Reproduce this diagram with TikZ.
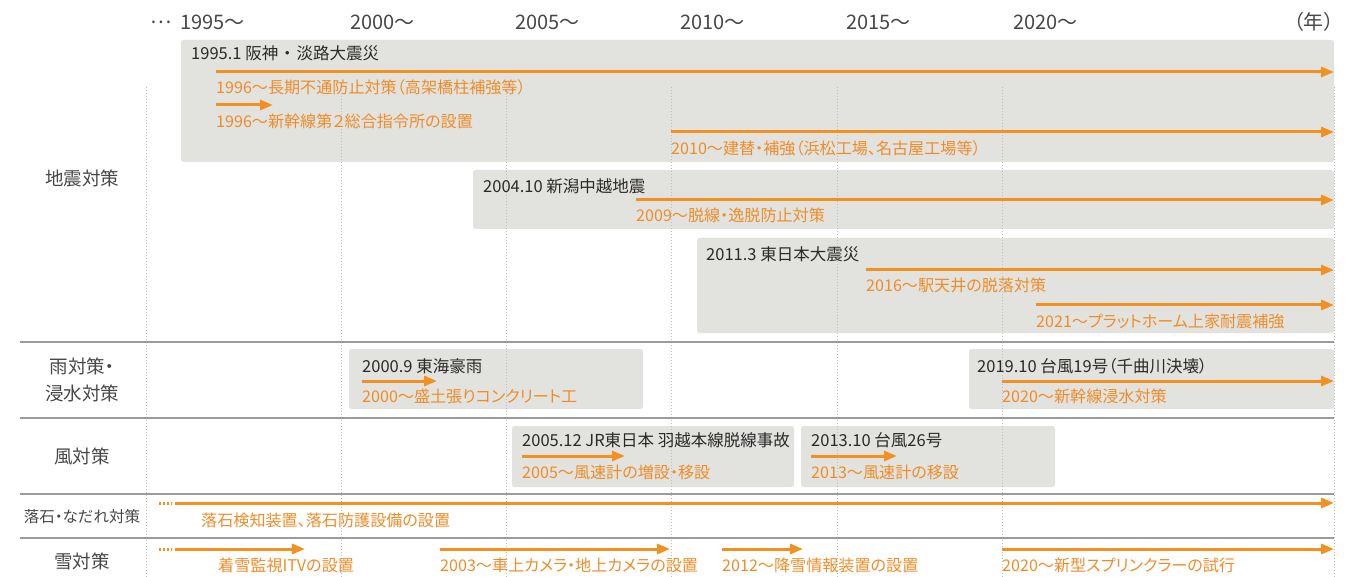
\documentclass[tikz,border=0pt]{standalone}
\usepackage{fontspec}
\setmainfont{Noto Sans CJK JP}[RawFeature=+palt]
\usetikzlibrary{arrows.meta}
\definecolor{org}{HTML}{F39020}
\definecolor{otext}{HTML}{F08C28}
\definecolor{boxg}{HTML}{E2E3DF}
\definecolor{sepg}{HTML}{9B9B9B}
\definecolor{dotg}{HTML}{BDBDBD}
\definecolor{txt}{HTML}{2A2A2A}
\definecolor{lab}{HTML}{474747}
\tikzset{
  yr/.style={anchor=west,inner sep=0pt,text=lab,font=\fontsize{20}{24}\selectfont},
  evt/.style={anchor=west,inner sep=0pt,text=txt,font=\fontsize{16.5}{19}\selectfont},
  msr/.style={anchor=west,inner sep=0pt,text=otext,font=\fontsize{16.1}{19}\selectfont},
  cat/.style={inner sep=0pt,text=lab,align=center,font=\fontsize{18.5}{27}\selectfont},
  gbox/.style={fill=boxg,rounded corners=2.5pt},
  arr/.style={draw=org,line width=3pt,-{Triangle[length=13pt,width=10pt]}},
  dots/.style={draw=org,line width=3pt,dash pattern=on 2pt off 2pt},
  sepline/.style={draw=sepg,line width=2pt},
  grid/.style={draw=dotg,line width=0.8pt,dash pattern=on 1pt off 2pt}
}
\begin{document}
\begin{tikzpicture}[x=1pt,y=-1pt]
\useasboundingbox (0,0) rectangle (1357,577);
% boxes
\fill[gbox] (181,40) rectangle (1334,162);
\fill[gbox] (473,170) rectangle (1334,229);
\fill[gbox] (697,238) rectangle (1334,333);
\fill[gbox] (349,349) rectangle (643,409);
\fill[gbox] (969,349) rectangle (1334,409);
\fill[gbox] (512,426) rectangle (794,487);
\fill[gbox] (801,426) rectangle (1055,487);
% grid lines
\foreach \x in {146,341,506,671,837,1002,1334}{
  \draw[grid] (\x,87) -- (\x,577);
}
% separators
\foreach \y in {342,418,494,538}{
  \draw[sepline] (20,\y) -- (1334,\y);
}
% year header
\node[yr,anchor=east] (ell) at (172,22) {…};
\node[yr] (y1995) at (180,22) {1995～};
\node[yr] (y2000) at (350,22) {2000～};
\node[yr] (y2005) at (515,22) {2005～};
\node[yr] (y2010) at (680,22) {2010～};
\node[yr] (y2015) at (846,22) {2015～};
\node[yr] (y2020) at (1013,22) {2020～};
\node[yr,anchor=east] (nen) at (1334,22) {（年）};
% categories
\node[cat] (c1) at (82,178) {地震対策};
\node[cat] (c2) at (82,380) {雨対策・\\浸水対策};
\node[cat] (c3) at (82,456) {風対策};
\node[cat,font=\fontsize{15.5}{18}\selectfont] (c4) at (82,517) {落石・なだれ対策};
\node[cat] (c5) at (82,561) {雪対策};
% coordinates
\coordinate (a1s) at (216,72);  \coordinate (a1e) at (1334,72);
\coordinate (a2s) at (216,105); \coordinate (a2e) at (273,105);
\coordinate (a3s) at (671,132); \coordinate (a3e) at (1334,132);
\coordinate (a4s) at (636,200); \coordinate (a4e) at (1334,200);
\coordinate (a5s) at (866,270); \coordinate (a5e) at (1334,270);
\coordinate (a6s) at (1036,305); \coordinate (a6e) at (1334,305);
\coordinate (a7s) at (362,381); \coordinate (a7e) at (437,381);
\coordinate (a8s) at (1002,381); \coordinate (a8e) at (1334,381);
\coordinate (a9s) at (522,456); \coordinate (a9e) at (625,456);
\coordinate (a10s) at (811,456); \coordinate (a10e) at (897,456);
\coordinate (d1s) at (159,503); \coordinate (d1e) at (172,503);
\coordinate (a11s) at (175,503); \coordinate (a11e) at (1334,503);
\coordinate (d2s) at (159,549); \coordinate (d2e) at (172,549);
\coordinate (a12s) at (175,549); \coordinate (a12e) at (305,549);
\coordinate (a13s) at (440,549); \coordinate (a13e) at (670,549);
\coordinate (a14s) at (722,549); \coordinate (a14e) at (803,549);
\coordinate (a15s) at (1002,549); \coordinate (a15e) at (1334,549);
% arrows
\foreach \i in {1,...,15}{ \draw[arr] (a\i s) -- (a\i e); }
\draw[dots] (d1s) -- (d1e);
\draw[dots] (d2s) -- (d2e);
% events
\node[evt] (e1) at (191,53) {1995.1 阪神\kern5pt・\kern5pt 淡路大震災};
\node[evt] (e2) at (483,186) {2004.10 新潟中越地震};
\node[evt] (e3) at (706,254) {2011.3 東日本大震災};
\node[evt] (e4) at (362,366) {2000.9 東海豪雨};
\node[evt] (e5) at (977,366) {2019.10 台風19号（千曲川決壊）};
\node[evt] (e6) at (522,440) {2005.12 JR東日本 羽越本線脱線事故};
\node[evt] (e7) at (811,440) {2013.10 台風26号};
% measures
\node[msr] (m1) at (216,87) {1996～長期不通防止対策（高架橋柱補強等）};
\node[msr] (m2) at (216,121) {1996～新幹線第２総合指令所の設置};
\node[msr] (m3) at (671,148) {2010～建替・補強（浜松工場、名古屋工場等）};
\node[msr] (m4) at (636,215) {2009～脱線・逸脱防止対策};
\node[msr] (m5) at (866,285) {2016～駅天井の脱落対策};
\node[msr] (m6) at (1036,321) {2021～プラットホーム上家耐震補強};
\node[msr] (m7) at (362,396) {2000～盛土張りコンクリート工};
\node[msr] (m8) at (1002,396) {2020～新幹線浸水対策};
\node[msr] (m9) at (522,472) {2005～風速計の増設・移設};
\node[msr] (m10) at (811,472) {2013～風速計の移設};
\node[msr] (m11) at (201,520) {落石検知装置、落石防護設備の設置};
\node[msr] (m12) at (218,565) {着雪監視ITVの設置};
\node[msr] (m13) at (440,565) {2003～車上カメラ・地上カメラの設置};
\node[msr] (m14) at (722,565) {2012～降雪情報装置の設置};
\node[msr] (m15) at (1002,565) {2020～新型スプリンクラーの試行};
\end{tikzpicture}
\end{document}
